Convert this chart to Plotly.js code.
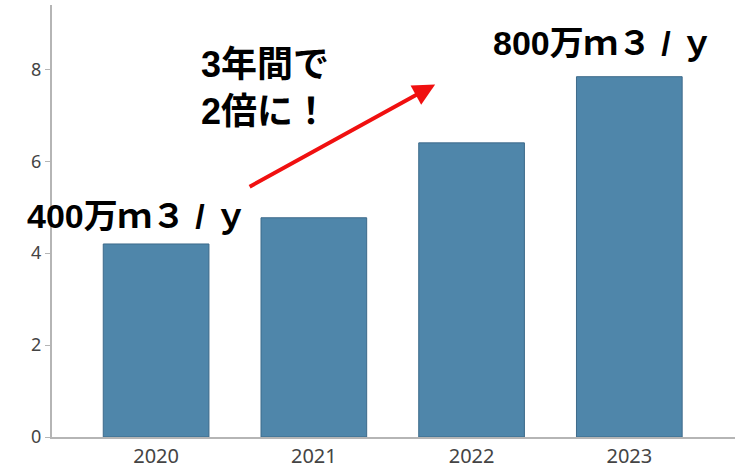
<!DOCTYPE html>
<html>
<head>
<meta charset="utf-8">
<script src="https://cdn.plot.ly/plotly-3.0.1.min.js"></script>
<style>
  body { margin: 0; background: #fff; }
  #chart { width: 751px; height: 468px; }
</style>
</head>
<body>
<div id="chart"></div>
<script>
var years = ['2020', '2021', '2022', '2023'];
var volume = [4.2, 4.77, 6.4, 7.84];
var yTicks = [0, 2, 4, 6, 8];

var jpFont = '"Liberation Sans", "Noto Sans CJK JP", sans-serif';
var tickFam = '"Noto Sans", "Open Sans", sans-serif';

var bars = {
  x: years,
  y: volume,
  type: 'bar',
  width: 0.67,
  marker: { color: '#4f86aa', line: { color: '#3d6a8a', width: 1 } },
  hoverinfo: 'skip'
};

var layout = {
  width: 751,
  height: 468,
  margin: { l: 52, r: 16, t: 5, b: 31 },
  paper_bgcolor: '#fff',
  plot_bgcolor: '#fff',
  showlegend: false,
  xaxis: {
    type: 'category',
    range: [-0.66, 3.67],
    showline: true,
    linecolor: '#b5b5b5',
    linewidth: 2,
    ticks: '',
    showgrid: false,
    zeroline: false,
    tickfont: { family: tickFam, size: 20, color: '#444' }
  },
  yaxis: {
    range: [0, 9.4],
    tickvals: yTicks,
    showline: true,
    linecolor: '#b5b5b5',
    linewidth: 2,
    ticks: 'outside',
    ticklen: 5,
    tickcolor: '#b5b5b5',
    showgrid: false,
    zeroline: false,
    tickfont: { family: tickFam, size: 18, color: '#444' }
  },
  annotations: [
    {
      x: 1.769, y: 7.67, xref: 'x', yref: 'y',
      ax: -187, ay: 103,
      showarrow: true, arrowhead: 2, arrowsize: 1.1, arrowwidth: 4,
      arrowcolor: '#f01010', text: ''
    },
    {
      x: -0.115, y: 4.8, xref: 'x', yref: 'y', showarrow: false,
      xanchor: 'center', yanchor: 'middle',
      text: '<b>400万ｍ３ / ｙ</b>',
      font: { family: jpFont, size: 34, color: '#000' }
    },
    {
      x: 0.27, y: 7.6, xref: 'x', yref: 'y', showarrow: false,
      xanchor: 'left', yanchor: 'middle', align: 'left',
      text: '<b>3年間で<br>2倍に！</b>',
      font: { family: jpFont, size: 36, color: '#000' }
    },
    {
      x: 2.834, y: 8.58, xref: 'x', yref: 'y', showarrow: false,
      xanchor: 'center', yanchor: 'middle',
      text: '<b>800万ｍ３ / ｙ</b>',
      font: { family: jpFont, size: 34, color: '#000' }
    }
  ]
};

Plotly.newPlot('chart', [bars], layout, { staticPlot: true });
</script>
</body>
</html>
